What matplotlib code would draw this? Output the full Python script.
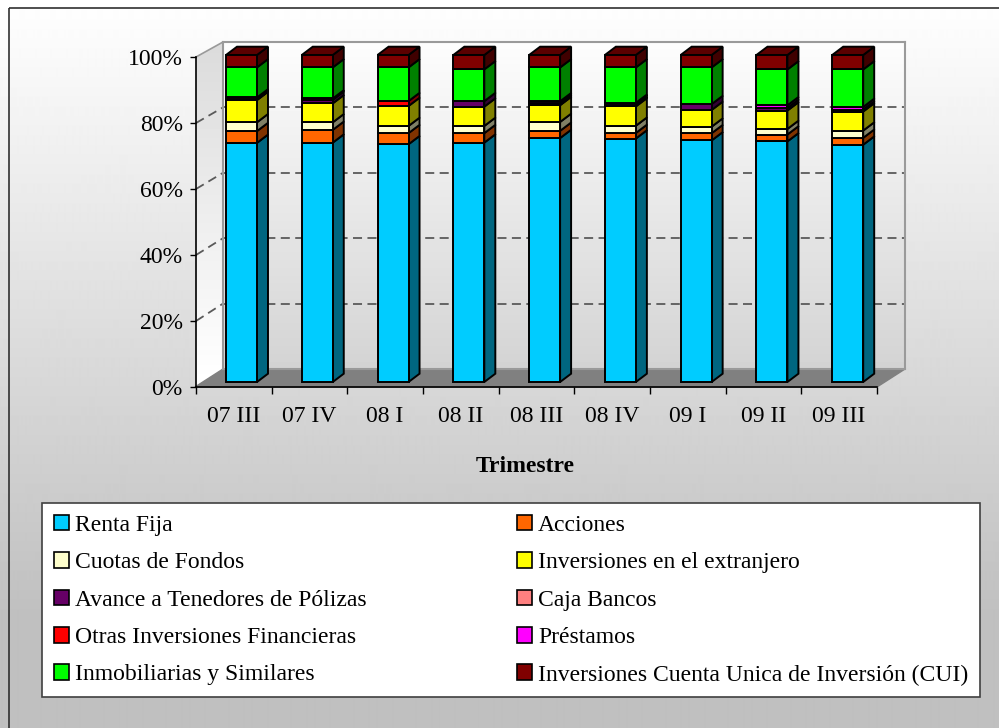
import numpy as np
import matplotlib
matplotlib.use('Agg')
import matplotlib.pyplot as plt
from matplotlib.patches import Polygon, Rectangle, Patch
from matplotlib.colors import to_rgb

plt.rcParams['font.family'] = ['Liberation Serif', 'DejaVu Serif']
plt.rcParams['font.size'] = 17

# Data (percent of portfolio per quarter)
trimestres = ['07 III', '07 IV', '08 I', '08 II', '08 III', '08 IV', '09 I', '09 II', '09 III']

renta_fija = [73.2, 73.2, 72.7, 73.2, 74.3, 74.3, 73.8, 73.2, 72.2]
acciones = [3.6, 3.9, 3.4, 2.9, 2.2, 1.7, 2.2, 2.1, 2.1]
cuotas_fondos = [2.7, 2.3, 2.2, 2.2, 2.7, 2.2, 2.0, 1.7, 2.2]
inv_extranjero = [6.8, 5.8, 6.1, 5.9, 5.1, 5.9, 5.1, 5.6, 5.8]
avance_tenedores = [0.2, 1.1, 0.0, 1.7, 0.6, 0.5, 1.8, 0.8, 0.6]
caja_bancos = [0.0, 0.0, 0.0, 0.0, 0.0, 0.0, 0.0, 0.0, 0.0]
otras_inversiones = [0.6, 0.4, 1.5, 0.0, 0.0, 0.0, 0.0, 0.0, 0.0]
prestamos = [0.0, 0.0, 0.0, 0.0, 0.6, 0.6, 0.0, 0.8, 0.8]
inmobiliarias = [9.2, 9.5, 10.3, 9.7, 10.3, 10.8, 11.2, 10.9, 11.4]
cui = [3.8, 3.8, 3.8, 4.4, 3.8, 3.8, 3.8, 4.4, 4.4]

series_names = ['Renta Fija', 'Acciones', 'Cuotas de Fondos', 'Inversiones en el extranjero',
                'Avance a Tenedores de Pólizas', 'Caja Bancos', 'Otras Inversiones Financieras',
                'Préstamos', 'Inmobiliarias y Similares', 'Inversiones Cuenta Unica de Inversión (CUI)']
series_values = [renta_fija, acciones, cuotas_fondos, inv_extranjero, avance_tenedores,
                 caja_bancos, otras_inversiones, prestamos, inmobiliarias, cui]
series_colors = ['#00CCFF', '#FF6600', '#FFFFCC', '#FFFF00', '#660066',
                 '#FF8080', '#FF0000', '#FF00FF', '#00FF00', '#800000']

W, H = 999, 728


def shade(c, f):
    r, g, b = to_rgb(c)
    return (r * f, g * f, b * f)


def box(x0, y_top, x1, y_bot):
    # pixel box (y from top) -> figure fraction rect
    return [x0 / W, 1 - y_bot / H, (x1 - x0) / W, (y_bot - y_top) / H]


fig = plt.figure(figsize=(W / 100, H / 100), dpi=100)

# background layer in pixel coordinates
bg = fig.add_axes([0, 0, 1, 1], zorder=-10)
bg.set_xlim(0, W)
bg.set_ylim(H, 0)
bg.axis('off')
rows = np.linspace(0, 1, H)
grad = np.clip(1.0 - 0.25 * rows / (620 / H), 0.753, 1.0)
bg.imshow(np.repeat(grad[:, None], 2, axis=1), cmap='gray', vmin=0, vmax=1,
          extent=[0, W, H, 0], aspect='auto', interpolation='bilinear')
bg.add_patch(Rectangle((9, 8), W + 20, H + 20, fill=False, edgecolor='#303030', linewidth=1.2))

# geometry of the 3D box
fx0, fx1, fy0, fy1 = 196, 877, 387, 57      # front plane
bx0, bx1, by0, by1 = 223, 905, 369, 42      # back wall

# left side wall with gradient
side = Polygon([(fx0, fy0), (fx0, fy1), (bx0, by1), (bx0, by0)], closed=True,
               facecolor='none', edgecolor='none')
bg.add_patch(side)
sw = np.linspace(0.86, 1.0, 50)
im = bg.imshow(np.repeat(sw[:, None], 2, axis=1), cmap='gray', vmin=0, vmax=1,
               extent=[fx0, bx0, fy0, by1], aspect='auto', interpolation='bilinear')
im.set_clip_path(side)
bg.plot([fx0, bx0, bx0], [fy1, by1, by0], color='#9a9a9a', lw=1.2)

# floor
bg.add_patch(Polygon([(fx0 - 1, fy0), (fx1, fy0), (bx1, by0), (bx0, by0)], closed=True,
                     facecolor='#808080', edgecolor='#808080', lw=1))

# back wall
wx = fig.add_axes(box(bx0, by1, bx1, by0), zorder=-5)
wx.set_xlim(0, 1)
wx.set_ylim(0, 100)
wv = np.linspace(0.83, 0.99, 50)
wx.imshow(np.repeat(wv[:, None], 2, axis=1), cmap='gray', vmin=0, vmax=1,
          extent=[0, 1, 100, 0], aspect='auto', interpolation='bilinear')
wx.set_ylim(0, 100)
wx.set_yticks([20, 40, 60, 80])
wx.set_xticks([])
wx.tick_params(left=False, labelleft=False)
wx.grid(axis='y', color='#5a5a5a', linestyle=(0, (5, 3)), linewidth=1.3)
for s in wx.spines.values():
    s.set_color('#9a9a9a')
    s.set_linewidth(1.5)

# dashes across the side wall
for p in [20, 40, 60, 80]:
    bg.plot([fx0, bx0], [fy0 - (fy0 - fy1) * p / 100, by0 - (by0 - by1) * p / 100],
            color='#5a5a5a', lw=1.3, linestyle=(0, (5, 3)))

# bars
bx = fig.add_axes(box(203.6, 55, 885.6, 382), zorder=0)
bx.set_xlim(-0.5, len(trimestres) - 0.5)
bx.set_ylim(0, 100)
bx.axis('off')

x = np.arange(len(trimestres))
vals = np.array(series_values, dtype=float)
vals = vals / vals.sum(axis=0) * 100  # 100% stacked
bw = 0.409
ddx = 11 / (682 / 9)
ddy = 8.3 / 3.27

bottom = np.zeros(len(x))
for vals_s, col in zip(vals, series_colors):
    bx.bar(x, vals_s, width=bw, bottom=bottom, color=col, edgecolor='black',
           linewidth=1.4, zorder=3, clip_on=False)
    for xi, b, h in zip(x, bottom, vals_s):
        if h <= 0:
            continue
        xr = xi + bw / 2
        bx.add_patch(Polygon([(xr, b), (xr + ddx, b + ddy), (xr + ddx, b + h + ddy), (xr, b + h)],
                             closed=True, facecolor=shade(col, 0.5), edgecolor='black',
                             linewidth=1.4, zorder=2, clip_on=False))
    bottom = bottom + vals_s

top_col = series_colors[-1]
for xi, t in zip(x, bottom):
    xl, xr = xi - bw / 2, xi + bw / 2
    bx.add_patch(Polygon([(xl, t), (xl + ddx, t + ddy), (xr + ddx, t + ddy), (xr, t)],
                         closed=True, facecolor=shade(top_col, 0.7), edgecolor='black',
                         linewidth=1.4, zorder=2, clip_on=False))

# front axis
ax = fig.add_axes(box(fx0, fy1, fx1, fy0), zorder=1)
ax.patch.set_alpha(0)
ax.set_xlim(0, len(trimestres))
ax.set_ylim(0, 100)
ax.set_yticks(np.arange(0, 101, 20))
ax.set_yticklabels([f'{v}%' for v in range(0, 101, 20)])
ax.set_xticks(np.arange(0, len(trimestres) + 1))
ax.set_xticklabels([])
ax.set_xticks(x + 0.5, minor=True)
ax.set_xticklabels(trimestres, minor=True)
ax.tick_params(axis='x', which='major', length=5, width=1, direction='out')
ax.tick_params(axis='x', which='minor', length=0, pad=14)
ax.tick_params(axis='y', length=4, width=1, pad=5.5, direction='out')
for s in ['top', 'right']:
    ax.spines[s].set_visible(False)
for s in ['left', 'bottom']:
    ax.spines[s].set_linewidth(1.2)
ax.set_xlabel('Trimestre', fontweight='bold', va='center')
ax.xaxis.set_label_coords(0.484, -0.2424)

# legend, laid out in two columns
order = [0, 2, 4, 6, 8, 1, 3, 5, 7, 9]
handles = [Patch(facecolor=series_colors[i], edgecolor='black', linewidth=1.2,
                 label=series_names[i]) for i in order]
leg = fig.legend(handles=handles, ncol=2, loc='upper left', mode='expand',
                 bbox_to_anchor=(42 / W, 1 - 697 / H, (980 - 42) / W, (697 - 503) / H),
                 borderaxespad=0, borderpad=0.5, labelspacing=0.69,
                 handlelength=0.64, handleheight=0.64, handletextpad=0.25,
                 fancybox=False, edgecolor='#404040', framealpha=1, fontsize=17)
leg.get_frame().set_linewidth(1.2)

fig.savefig('out.png', dpi=100)
